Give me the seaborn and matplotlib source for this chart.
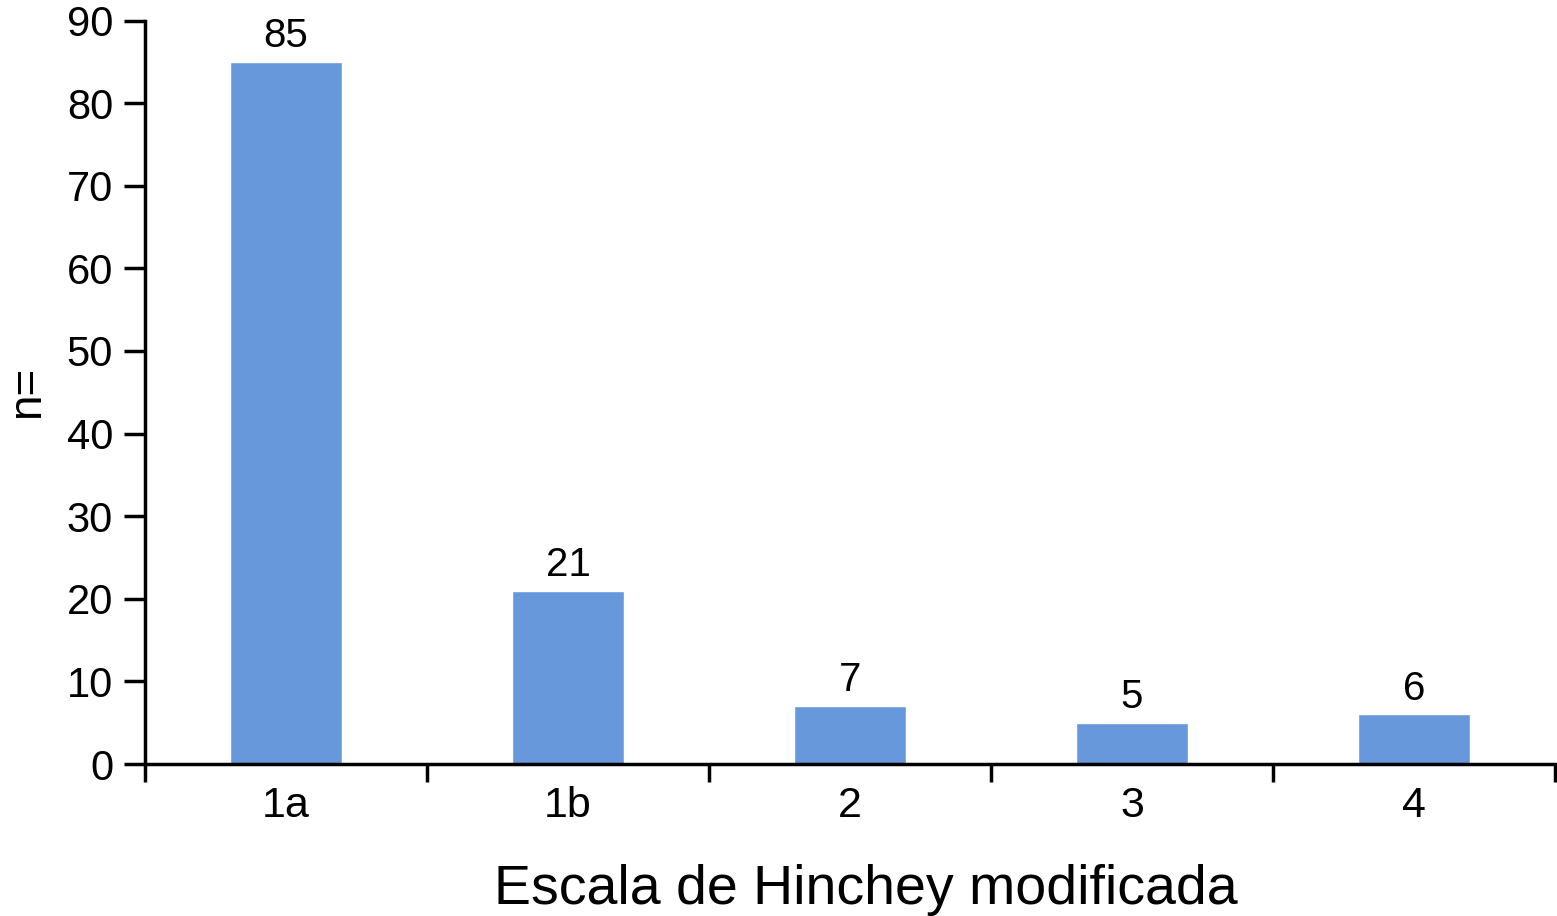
import matplotlib
matplotlib.use("Agg")
import matplotlib.pyplot as plt
import numpy as np
import pandas as pd
import seaborn as sns

sns.set_style("ticks")
plt.rcParams["font.family"] = ["Liberation Sans", "DejaVu Sans"]
plt.rcParams["text.color"] = "black"
plt.rcParams["axes.labelcolor"] = "black"
plt.rcParams["xtick.color"] = "black"
plt.rcParams["ytick.color"] = "black"

barBlue = "#6798db"

categories = ["1a", "1b", "2", "3", "4"]
counts = [85, 21, 7, 5, 6]

df = pd.DataFrame({"escala": categories, "n": counts})

fig = plt.figure(figsize=(15.57, 9.16), dpi=100)
ax = fig.add_axes([0.0931, 0.1659, 0.9056, 0.8117])

sns.barplot(data=df, x="escala", y="n", order=categories, color=barBlue,
            width=0.4, saturation=1, ax=ax)

for c in ax.containers:
    ax.bar_label(c, fmt="%d", padding=5, fontsize=29, color="black")

ax.set_xlim(-0.5, 4.5)
ax.set_ylim(0, 90)
ax.set_yticks(np.arange(0, 91, 10))

# category boundaries get the tick marks, labels sit in the middle
ax.set_xticks(np.arange(-0.5, 5, 1), minor=True)
ax.tick_params(axis="x", which="major", length=0, pad=15.5, labelsize=31)
ax.tick_params(axis="x", which="minor", length=13, width=2.5, direction="out")
ax.tick_params(axis="y", length=15, width=2.5, pad=8, labelsize=30)

ax.set_xlabel("Escala de Hinchey modificada", fontsize=40, labelpad=28)
ax.xaxis.label.set_x(0.511)
ax.set_ylabel("n=", fontsize=33)
ax.yaxis.set_label_coords(-0.068, 0.5)

sns.despine(ax=ax)
for side in ["left", "bottom"]:
    ax.spines[side].set_linewidth(2.5)
    ax.spines[side].set_color("black")

fig.savefig("out.png", dpi=100)
